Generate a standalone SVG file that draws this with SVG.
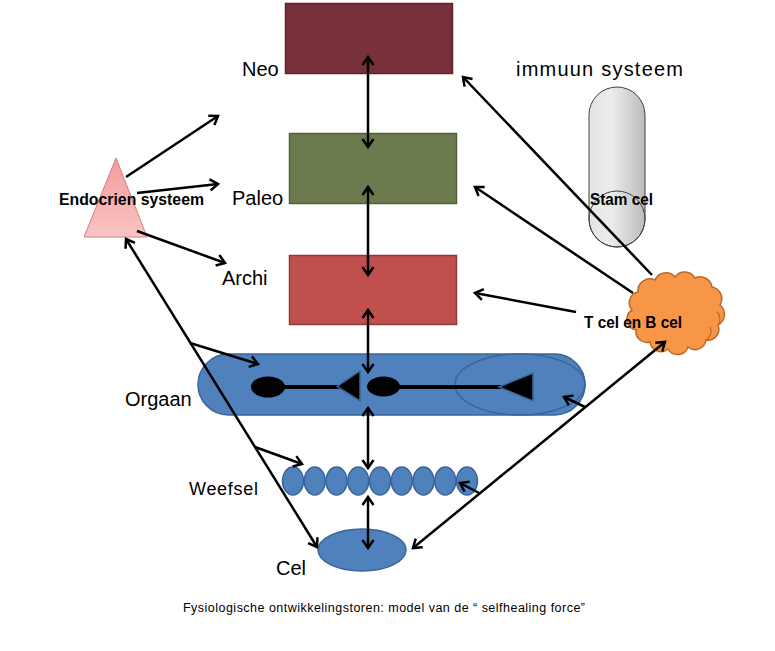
<svg xmlns="http://www.w3.org/2000/svg" width="775" height="651" viewBox="0 0 775 651">
<style>
.lbl{font-family:"Liberation Sans",Arial,sans-serif;font-size:20px;fill:#000}
.bold{font-family:"Liberation Sans",Arial,sans-serif;font-weight:bold;font-size:16px;fill:#000}
.cap{font-family:"Liberation Sans",Arial,sans-serif;font-size:12.5px;fill:#000}
.blue{fill:#4f81bd;stroke:#3a6599;stroke-width:1.5}
.arr{stroke:#000;stroke-width:2.5;fill:none;marker-end:url(#ah)}
.dbl{stroke:#000;stroke-width:2.5;fill:none;marker-end:url(#ah);marker-start:url(#ah)}
</style>
<defs>
<marker id="ah" viewBox="0 0 14 14" refX="11" refY="7" markerWidth="14" markerHeight="14" markerUnits="userSpaceOnUse" orient="auto-start-reverse">
<path d="M3,1.5 L11,7 L3,12.5" fill="none" stroke="#000" stroke-width="2.5" stroke-linejoin="miter"/>
</marker>
<linearGradient id="pink" x1="0" y1="0" x2="0" y2="1">
<stop offset="0" stop-color="#f29c9c"/>
<stop offset="1" stop-color="#f9c4c4"/>
</linearGradient>
<linearGradient id="grey" x1="0" y1="0" x2="1" y2="0">
<stop offset="0" stop-color="#e4e4e4"/>
<stop offset="0.4" stop-color="#ececec"/>
<stop offset="1" stop-color="#bcbcbc"/>
</linearGradient>
</defs>
<rect width="775" height="651" fill="#fff"/>

<g id="neo">
<rect x="285.5" y="3.5" width="167" height="70" fill="#78303a" stroke="#5e252b" stroke-width="1.5"/>
<text class="lbl" x="242" y="76">Neo</text>
</g>
<g id="paleo">
<rect x="289.5" y="133.5" width="167" height="70" fill="#6b7b4e" stroke="#52603b" stroke-width="1.5"/>
<text class="lbl" x="232" y="205">Paleo</text>
</g>
<g id="archi">
<rect x="289.5" y="255.5" width="167" height="69" fill="#c0504d" stroke="#8e3a38" stroke-width="1.5"/>
<text class="lbl" x="222" y="285">Archi</text>
</g>

<g id="immuun">
<text class="lbl" x="516" y="76" textLength="167" lengthAdjust="spacing">immuun systeem</text>
</g>
<g id="stamcel">
<rect x="589" y="87" width="56" height="160" rx="28" ry="28" fill="url(#grey)" stroke="#404040" stroke-width="1"/>
<circle cx="617" cy="219" r="28" fill="none" stroke="#404040" stroke-width="1"/>
<text class="bold" x="590" y="205" textLength="63" lengthAdjust="spacingAndGlyphs">Stam cel</text>
</g>

<g id="endocrien">
<polygon points="116,158 84,237 147,237" fill="url(#pink)" stroke="#e07a7a" stroke-width="1"/>
<text class="bold" x="59" y="205" textLength="145" lengthAdjust="spacingAndGlyphs">Endocrien systeem</text>
</g>

<g id="orgaan">
<rect x="198" y="354" width="387" height="61" rx="30.5" ry="30.5" class="blue"/>
<ellipse cx="520" cy="384.5" rx="65" ry="30.5" fill="none" stroke="#3a6599" stroke-width="1.5"/>
<ellipse cx="268" cy="387" rx="17" ry="10.5" fill="#000"/>
<line x1="268" y1="387" x2="340" y2="387" stroke="#000" stroke-width="4"/>
<polygon points="337,386.5 360,371 360,401" fill="#000" stroke="#3a6599" stroke-width="1.5"/>
<ellipse cx="383.5" cy="386.5" rx="16.5" ry="10" fill="#000"/>
<line x1="383" y1="387" x2="502" y2="387" stroke="#000" stroke-width="4"/>
<polygon points="499,387 533,373 533,401" fill="#000" stroke="#3a6599" stroke-width="1.5"/>
<text class="lbl" x="125" y="406">Orgaan</text>
</g>

<g id="weefsel">
<ellipse cx="293" cy="481" rx="10.5" ry="14" class="blue"/>
<ellipse cx="314.75" cy="481" rx="10.5" ry="14" class="blue"/>
<ellipse cx="336.5" cy="481" rx="10.5" ry="14" class="blue"/>
<ellipse cx="358.25" cy="481" rx="10.5" ry="14" class="blue"/>
<ellipse cx="380" cy="481" rx="10.5" ry="14" class="blue"/>
<ellipse cx="401.75" cy="481" rx="10.5" ry="14" class="blue"/>
<ellipse cx="423.5" cy="481" rx="10.5" ry="14" class="blue"/>
<ellipse cx="445.25" cy="481" rx="10.5" ry="14" class="blue"/>
<ellipse cx="467" cy="481" rx="10.5" ry="14" class="blue"/>
<text class="lbl" x="189" y="495" style="font-size:18px" textLength="69" lengthAdjust="spacing">Weefsel</text>
</g>

<g id="cel">
<ellipse cx="362" cy="550" rx="44" ry="21" class="blue"/>
<text class="lbl" x="276" y="575" textLength="30" lengthAdjust="spacing">Cel</text>
</g>

<g id="tbcel">
<path d="M638,292 A12,12 0 0 1 655,280 A12,12 0 0 1 675,277 A12,12 0 0 1 695,278 A12,12 0 0 1 712,287 A12,12 0 0 1 720,305 A12,12 0 0 1 718,325 A11,11 0 0 1 706,340 A11,11 0 0 1 688,347 A11,11 0 0 1 668,349 A11,11 0 0 1 650,342 A11,11 0 0 1 636,330 A11,11 0 0 1 632,310 A11,11 0 0 1 638,292 Z" fill="#f79646" stroke="#b8692a" stroke-width="1.5"/>
<path d="M706,340 A10,10 0 0 0 710,327 M718,325 A10,10 0 0 0 717,312" fill="none" stroke="#b8692a" stroke-width="1.2"/>
<text class="bold" x="584" y="328" textLength="98" lengthAdjust="spacingAndGlyphs">T cel en B cel</text>
</g>

<g id="connectors">
<line class="dbl" x1="368" y1="57" x2="368" y2="147" stroke-width="3"/>
<line class="dbl" x1="368" y1="187" x2="368" y2="275" stroke-width="3"/>
<line class="dbl" x1="368" y1="310" x2="368" y2="372" stroke-width="3"/>
<line class="dbl" x1="368" y1="408" x2="368" y2="468" stroke-width="3"/>
<line class="dbl" x1="368" y1="497" x2="368" y2="548" stroke-width="3"/>
<line class="arr" x1="126" y1="177" x2="218" y2="116"/>
<line class="arr" x1="137" y1="193" x2="218" y2="184"/>
<line class="arr" x1="137" y1="231" x2="225" y2="263"/>
<line class="dbl" x1="126" y1="239" x2="317" y2="547"/>
<line class="arr" x1="190" y1="343" x2="258" y2="364"/>
<line class="arr" x1="255" y1="447" x2="302" y2="464"/>
<line class="arr" x1="652" y1="275" x2="463" y2="77"/>
<line class="arr" x1="633" y1="293" x2="475" y2="187"/>
<line class="arr" x1="576" y1="312" x2="475" y2="293"/>
<line class="dbl" x1="665" y1="342" x2="413" y2="548" stroke-width="2"/>
<line class="arr" x1="585" y1="407" x2="564" y2="397" stroke-width="2"/>
<line class="arr" x1="479" y1="493" x2="460" y2="483" stroke-width="2"/>
</g>

<text class="cap" x="183" y="612" textLength="402" lengthAdjust="spacing">Fysiologische ontwikkelingstoren: model van de “ selfhealing force”</text>
</svg>
